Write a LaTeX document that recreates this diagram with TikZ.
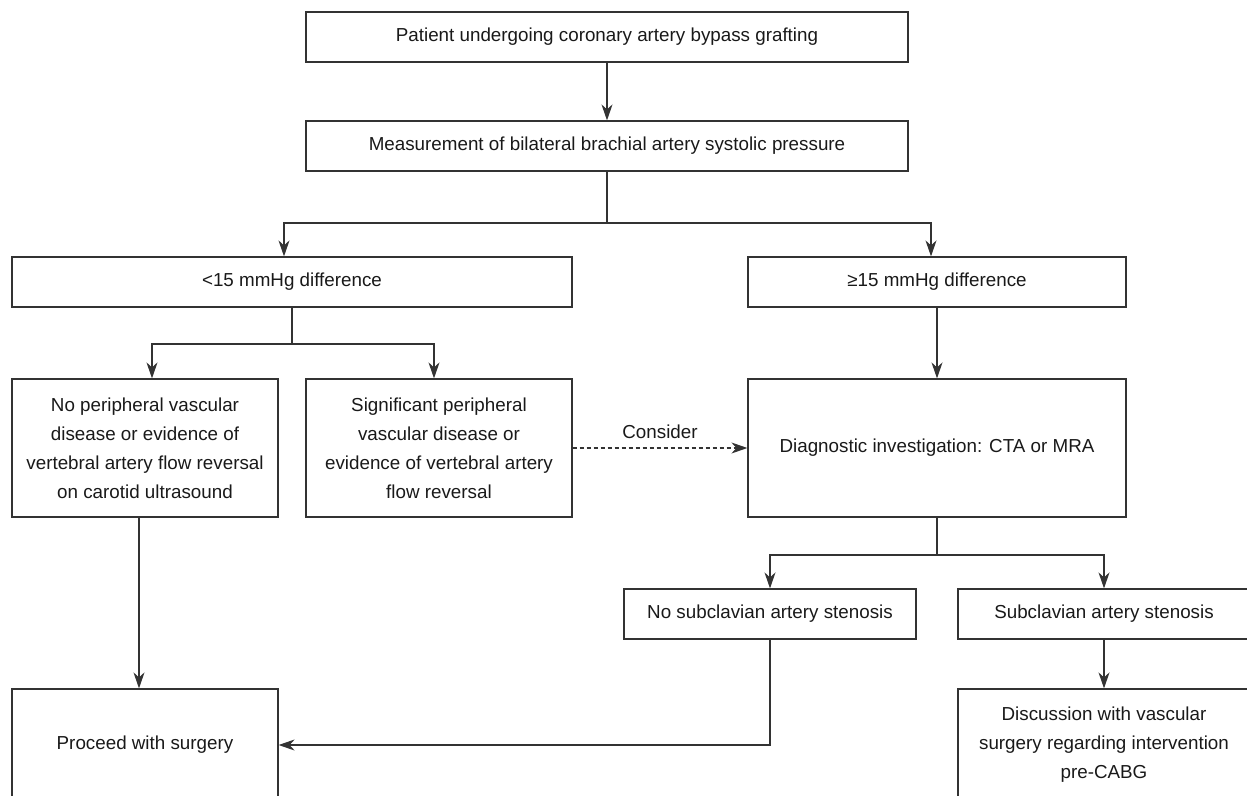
\documentclass[tikz,border=0pt]{standalone}
\usepackage{fontspec}
\setmainfont{Liberation Sans}
\usepackage{tikz}
\usetikzlibrary{arrows.meta}

\tikzset{
  box/.style={draw=black!80, line width=1.2pt, rectangle, align=center,
    text=black!90, inner sep=0pt, font=\fontsize{18.8}{29}\selectfont},
  arr/.style={draw=black!80, line width=1.2pt,
    -{Stealth[length=16pt,width=11pt,inset=5pt]}},
  ln/.style={draw=black!80, line width=1.2pt},
}

\begin{document}
\begin{tikzpicture}[x=1pt,y=-1pt]
  \clip (0,0) rectangle (1247,795);

  \node[box, minimum width=602pt, minimum height=50pt] (patient) at (607,37)
    {Patient undergoing coronary artery bypass grafting};
  \node[box, minimum width=602pt, minimum height=50pt] (measure) at (607,146)
    {Measurement of bilateral brachial artery systolic pressure};

  \node[box, minimum width=560pt, minimum height=50pt] (less) at (292,282)
    {<15 mmHg difference};
  \node[box, minimum width=378pt, minimum height=50pt] (more) at (937,282)
    {≥15 mmHg difference};

  \node[box, minimum width=266pt, minimum height=138pt] (nopvd) at (145,448)
    {No peripheral vascular\\disease or evidence of\\vertebral artery flow reversal\\on carotid ultrasound};
  \node[box, minimum width=266pt, minimum height=138pt] (pvd) at (439,448)
    {Significant peripheral\\vascular disease or\\evidence of vertebral artery\\flow reversal};
  \node[box, minimum width=378pt, minimum height=138pt] (diag) at (937,448)
    {Diagnostic investigation: CTA or MRA};

  \node[box, minimum width=292pt, minimum height=50pt] (nosub) at (770,614)
    {No subclavian artery stenosis};
  \node[box, minimum width=292pt, minimum height=50pt] (sub) at (1104,614)
    {Subclavian artery stenosis};

  \node[box, minimum width=266pt, minimum height=112pt] (proceed) at (145,745)
    {Proceed with surgery};
  \node[box, minimum width=292pt, minimum height=112pt] (discuss) at (1104,745)
    {Discussion with vascular\\surgery regarding intervention\\pre-CABG};

  %% split points
  \coordinate (s1) at (607,223);
  \coordinate (s2) at (292,344);
  \coordinate (s3) at (937,555);

  \draw[arr] (patient) -- (measure);
  \draw[ln] (measure.south) -- (s1);
  \draw[arr] (s1) -| ([xshift=-8pt]less.north);
  \draw[arr] (s1) -| ([xshift=-6pt]more.north);

  \draw[ln] (less.south) -- (s2);
  \draw[arr] (s2) -| ([xshift=7pt]nopvd.north);
  \draw[arr] (s2) -| ([xshift=-5pt]pvd.north);

  \draw[arr] (more) -- (diag);
  \draw[arr, dash pattern=on 4pt off 3pt] (pvd.east) -- node[above=5pt,
    font=\fontsize{18.8}{22}\selectfont, text=black!90] {Consider} (diag.west);

  \draw[ln] (diag.south) -- (s3);
  \draw[arr] (s3) -| (nosub.north);
  \draw[arr] (s3) -| (sub.north);

  \draw[arr] ([xshift=-6pt]nopvd.south) -- ([xshift=-6pt]proceed.north);
  \draw[arr] (nosub.south) |- (proceed.east);
  \draw[arr] (sub) -- (discuss);
\end{tikzpicture}
\end{document}
